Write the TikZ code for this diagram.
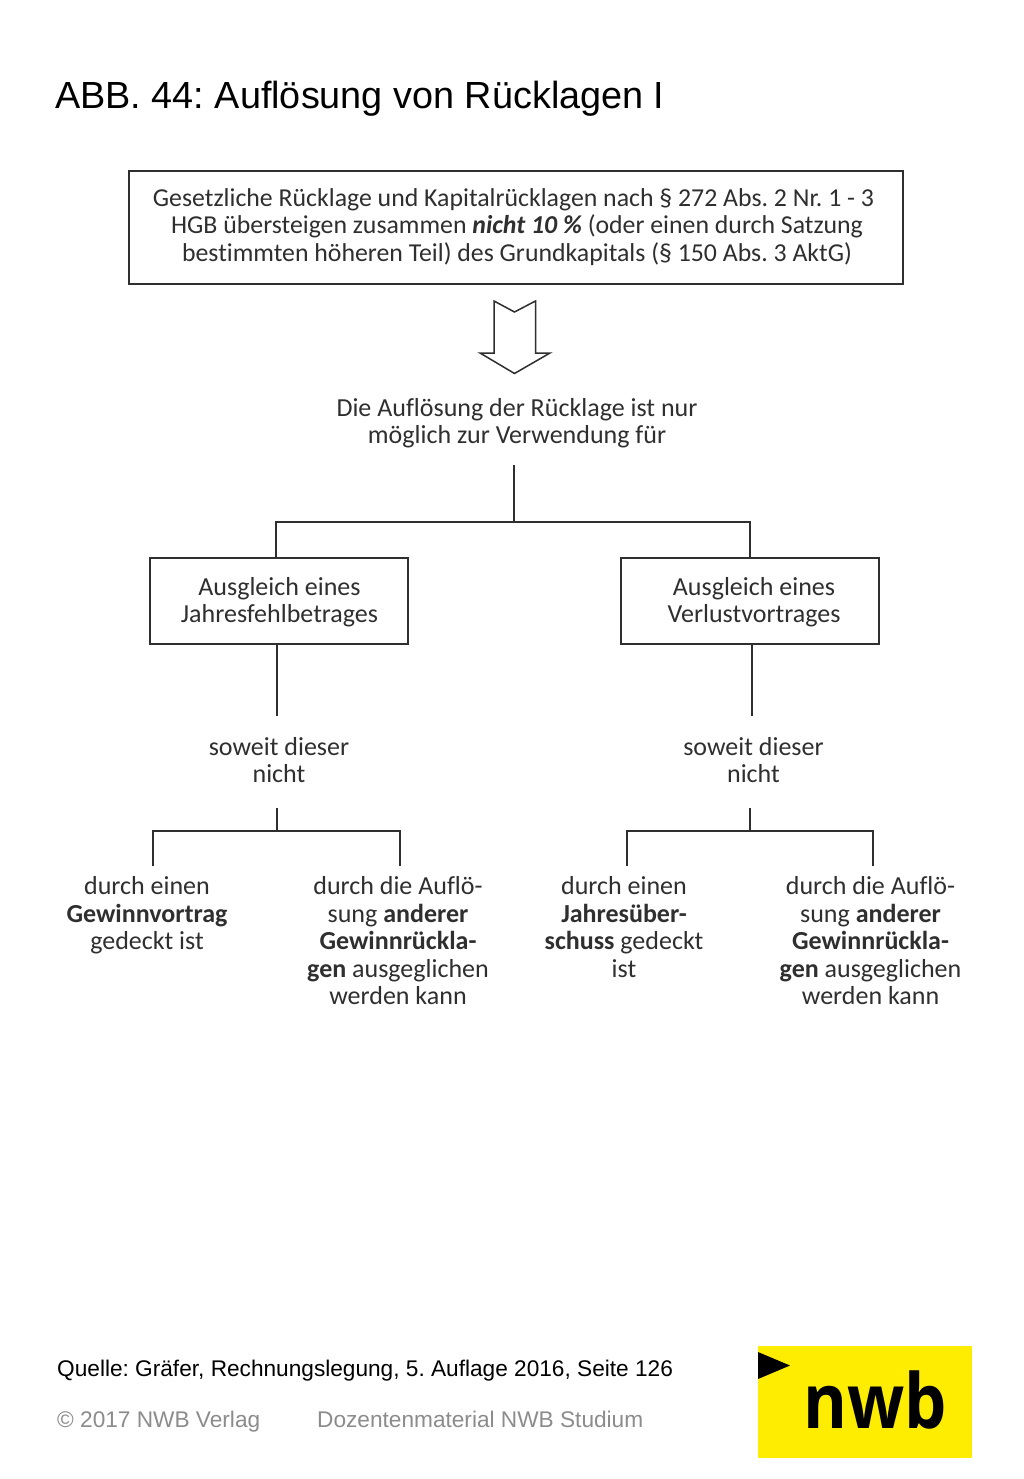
\documentclass[tikz,border=0pt]{standalone}
\usepackage{fontspec}
\setmainfont{Liberation Sans}
\newfontfamily\bodyfont[Ligatures=NoCommon]{Carlito}
\newfontfamily\logofont{Open Sans}
\definecolor{ink}{HTML}{2F2F2F}
\definecolor{nwbyellow}{HTML}{FFED00}
\begin{document}
\frenchspacing
\begin{tikzpicture}[x=1pt,y=-1pt,
  conn/.style={draw=ink,line width=2pt,line cap=butt,line join=miter},
  boxed/.style={draw=ink,line width=2pt,fill=white,inner sep=0pt,minimum height=#1},
  body/.style={text=ink,align=center,inner sep=0pt,font=\bodyfont\fontsize{26}{27.5}\selectfont},
  sans/.style={anchor=base west,inner sep=0pt}]
\useasboundingbox (0,0) rectangle (1024,1479);
\fill[white] (0,0) rectangle (1024,1479);
\node[sans,font=\fontsize{37.8}{40}\selectfont,text=black] (title) at (55,109) {ABB. 44: Auflösung von Rücklagen I};

\node[boxed=112pt,minimum width=774pt] (top) at (516,227.5) {};
\node[body,font=\bodyfont\fontsize{25.8}{27.5}\selectfont] (toptext) at (517,227) {Gesetzliche Rücklage und Kapitalrücklagen nach § 272 Abs. 2 Nr. 1 - 3\hspace*{7pt}\\
HGB übersteigen zusammen \textbf{\textit{nicht 10 \%}} (oder einen durch Satzung\\
bestimmten höheren Teil) des Grundkapitals (§ 150 Abs. 3 AktG)};

\draw[draw=ink,line width=1.5pt,line join=miter,fill=white]
  (494,301) -- (514.5,312) -- (535.5,301) -- (535.5,353) -- (550,353) -- (514.5,373.5) -- (480,353) -- (494,353) -- cycle;

\node[body] (intro) at (517,423) {Die Auflösung der Rücklage ist nur\\möglich zur Verwendung für};

\node[boxed=86pt,minimum width=258pt] (boxL) at (279,600.5) {};
\node[body] at (279.5,602) {Ausgleich eines\\Jahresfehlbetrages};
\node[boxed=86pt,minimum width=258pt] (boxR) at (750,600.5) {};
\node[body] at (754,602) {Ausgleich eines\\Verlustvortrages};

\node[body] (sowL) at (279,760) {soweit dieser\\nicht};
\node[body] (sowR) at (753.5,760) {soweit dieser\\nicht};

\node[body] (a) at (147,915.5) {durch einen\\\textbf{Gewinnvortrag}\\gedeckt ist};
\node[body] (b) at (398,941) {durch die Auflö-\\sung \textbf{anderer}\\\textbf{Gewinnrückla-}\\\textbf{gen} ausgeglichen\\werden kann};
\node[body] (c) at (624,927) {durch einen\\\textbf{Jahresüber-}\\\textbf{schuss} gedeckt\\ist};
\node[body] (d) at (870.5,941) {durch die Auflö-\\sung \textbf{anderer}\\\textbf{Gewinnrückla-}\\\textbf{gen} ausgeglichen\\werden kann};

% connector ends
\coordinate (t0) at (513.5,465);
\coordinate (t1) at (513.5,522);
\coordinate (eL) at (276,557);
\coordinate (eR) at (750,557);
\draw[conn] (t0) -- (t1);
\draw[conn] (eL) |- (t1) -| (eR);

\coordinate (lL0) at (277,644);
\coordinate (lL1) at (277,716);
\coordinate (lR0) at (752,644);
\coordinate (lR1) at (752,716);
\draw[conn] (lL0) -- (lL1);
\draw[conn] (lR0) -- (lR1);

\coordinate (hL0) at (276.5,808);
\coordinate (hL) at (276.5,831);
\coordinate (ea) at (153,866);
\coordinate (eb) at (400,866);
\draw[conn] (hL0) -- (hL);
\draw[conn] (ea) |- (hL) -| (eb);

\coordinate (hR0) at (750,808);
\coordinate (hR) at (750,831);
\coordinate (ec) at (627,866);
\coordinate (ed) at (873,866);
\draw[conn] (hR0) -- (hR);
\draw[conn] (ec) |- (hR) -| (ed);

\node[sans,font=\fontsize{22.65}{25}\selectfont,text=black] (src) at (57,1376) {Quelle: Gräfer, Rechnungslegung, 5. Auflage 2016, Seite 126};
\node[sans,font=\fontsize{22.65}{25}\selectfont,text=black!45] (copy) at (57,1427) {© 2017 NWB Verlag};
\node[sans,font=\fontsize{22.65}{25}\selectfont,text=black!45] (doz) at (317,1427) {Dozentenmaterial NWB Studium};

\fill[nwbyellow] (758,1346) rectangle (972,1458);
\fill[black] (758,1352) -- (790,1365.5) -- (758,1379) -- cycle;
\node[anchor=base,inner sep=0pt,text=black,font=\logofont\bfseries\fontsize{76}{80}\selectfont] (logo) at (875.5,1428) {\scalebox{.88}[1]{nwb}};
\end{tikzpicture}
\end{document}
